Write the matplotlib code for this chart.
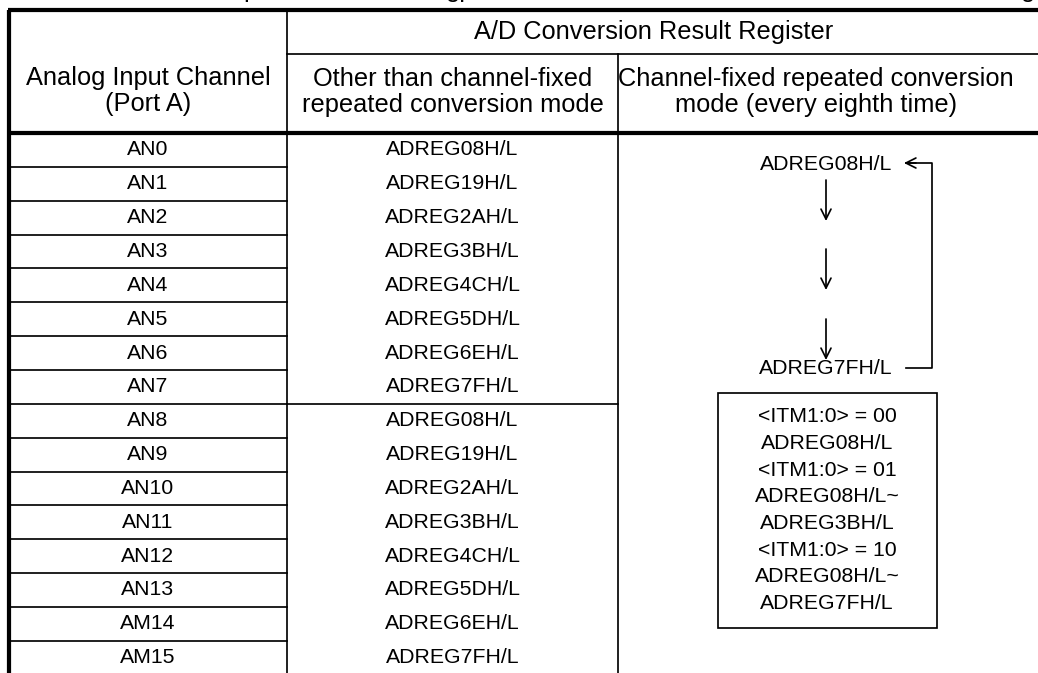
import matplotlib.pyplot as plt

plt.rcParams['font.family'] = ['Liberation Sans', 'DejaVu Sans']

# table contents
channels = ['AN0', 'AN1', 'AN2', 'AN3', 'AN4', 'AN5', 'AN6', 'AN7',
            'AN8', 'AN9', 'AN10', 'AN11', 'AN12', 'AN13', 'AM14', 'AM15']
registers = ['ADREG08H/L', 'ADREG19H/L', 'ADREG2AH/L', 'ADREG3BH/L',
             'ADREG4CH/L', 'ADREG5DH/L', 'ADREG6EH/L', 'ADREG7FH/L'] * 2
col1_header = 'Analog Input Channel\n(Port A)'
group_header = 'A/D Conversion Result Register'
col2_header = 'Other than channel-fixed\nrepeated conversion mode'
col3_header = 'Channel-fixed repeated conversion\nmode (every eighth time)'
loop_first = 'ADREG08H/L'
loop_last = 'ADREG7FH/L'
itm_lines = ['<ITM1:0> = 00', 'ADREG08H/L', '<ITM1:0> = 01', 'ADREG08H/L~',
             'ADREG3BH/L', '<ITM1:0> = 10', 'ADREG08H/L~', 'ADREG7FH/L']

W, H = 1038, 673
fig = plt.figure(figsize=(W / 100, H / 100), dpi=100)
ax = fig.add_axes([0, 0, 1, 1])
ax.set_xlim(0, W)
ax.set_ylim(H, 0)
ax.axis('off')

thick = 4.2 * 0.72
thin = 1.7 * 0.72
body = 15.3
head = 18.3

# grid geometry
x_left, x_c1, x_c2, x_right = 9, 287, 618, W
y_top, y_mid, y_head = 9.5, 54, 133
row_h = 33.85

# clipped descenders of the caption line above the table
for gx, g in [(250, 'p'), (460, 'gp'), (1028, 'g')]:
    ax.text(gx, -3.5, g, fontsize=head, ha='center', va='baseline')

# outer / header lines
ax.plot([x_left - 1.5, x_right], [y_top, y_top], color='black', lw=thick, solid_capstyle='butt')
ax.plot([x_left, x_left], [y_top, H], color='black', lw=thick, solid_capstyle='butt')
ax.plot([x_left, x_right], [y_head, y_head], color='black', lw=thick, solid_capstyle='butt')
ax.plot([x_c1, x_c1], [y_top, H], color='black', lw=thin)
ax.plot([x_c2, x_c2], [y_mid, H], color='black', lw=thin)
ax.plot([x_c1, x_right], [y_mid, y_mid], color='black', lw=thin)

# header text
ax.text((x_left + x_c1) / 2, 91, col1_header, fontsize=head, ha='center', va='center',
        linespacing=1.15)
ax.text(654, 32, group_header, fontsize=head, ha='center', va='center')
ax.text((x_c1 + x_c2) / 2, 92, col2_header, fontsize=head, ha='center', va='center',
        linespacing=1.15)
ax.text(816, 92, col3_header, fontsize=head, ha='center', va='center', linespacing=1.15)

# body rows
for i, (ch, reg) in enumerate(zip(channels, registers)):
    yc = y_head + row_h * (i + 0.5)
    ax.text((x_left + x_c1) / 2, yc, ch, fontsize=body, ha='center', va='center')
    ax.text((x_c1 + x_c2) / 2, yc, reg, fontsize=body, ha='center', va='center')
    yb = y_head + row_h * (i + 1)
    if yb < H:
        ax.plot([x_left, x_c1], [yb, yb], color='black', lw=thin)
ax.plot([x_c1, x_c2], [y_head + row_h * 8] * 2, color='black', lw=thin)

# channel-fixed loop diagram
cx = 826
ax.text(cx, 165, loop_first, fontsize=body, ha='center', va='center')
ax.text(cx, 368, loop_last, fontsize=body, ha='center', va='center')
for y0, y1 in [(180, 221), (249, 290), (319, 360)]:
    ax.annotate('', xy=(cx, y1), xytext=(cx, y0),
                arrowprops=dict(arrowstyle='->', lw=thin, color='black',
                                shrinkA=0, shrinkB=0, mutation_scale=18))
ax.plot([906, 932, 932, 906], [368, 368, 163, 163], color='black', lw=thin)
ax.annotate('', xy=(904, 163), xytext=(916, 163),
            arrowprops=dict(arrowstyle='->', lw=thin, color='black',
                            shrinkA=0, shrinkB=0, mutation_scale=18))

# ITM box
ax.add_patch(plt.Rectangle((717.5, 392.5), 219.5, 235, fill=False, ec='black', lw=thin))
for j, line in enumerate(itm_lines):
    ax.text(827, 417 + 26.6 * j, line, fontsize=body, ha='center', va='center')

fig.savefig('out.png', dpi=100)
